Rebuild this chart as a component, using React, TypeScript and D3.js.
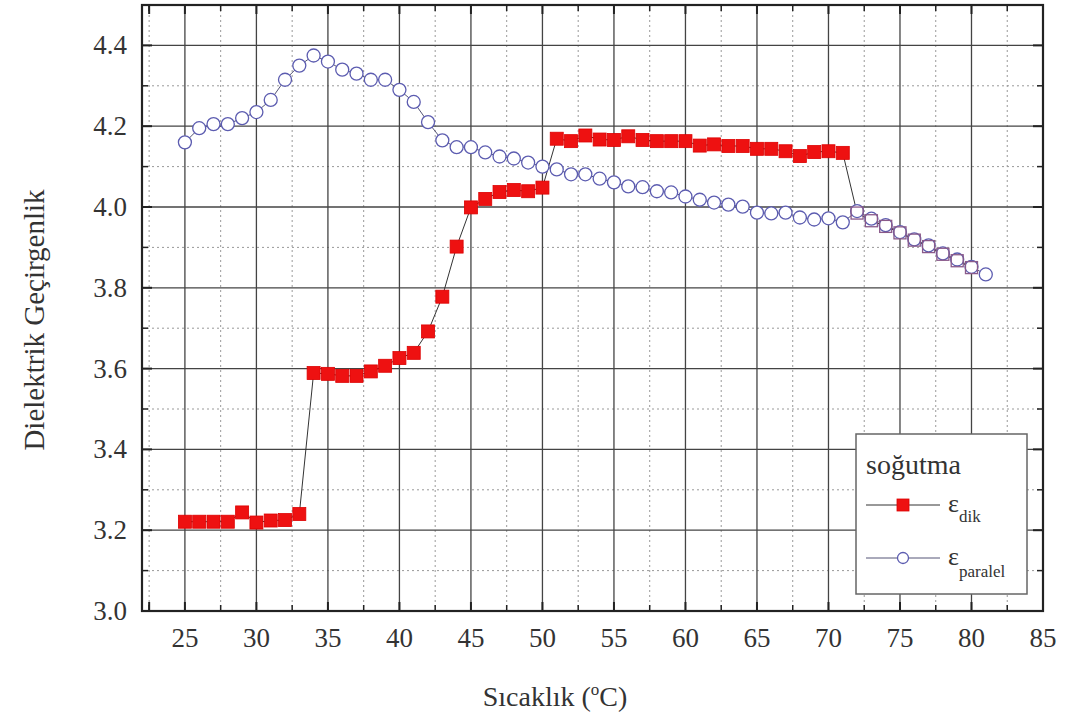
import React from 'react';
import * as d3 from 'd3';

const xDik = [25, 26, 27, 28, 29, 30, 31, 32, 33, 34, 35, 36, 37, 38, 39, 40, 41, 42, 43, 44, 45, 46, 47, 48, 49, 50,
  51, 52, 53, 54, 55, 56, 57, 58, 59, 60, 61, 62, 63, 64, 65, 66, 67, 68, 69, 70, 71];
const yDik = [3.221, 3.221, 3.221, 3.221, 3.244, 3.219, 3.224, 3.225, 3.240, 3.589, 3.587, 3.582, 3.582, 3.593, 3.607,
  3.626, 3.639, 3.692, 3.778, 3.902, 3.999, 4.02, 4.037, 4.042, 4.039, 4.048,
  4.169, 4.163, 4.177, 4.167, 4.166, 4.175, 4.166, 4.163, 4.163, 4.163, 4.152, 4.155, 4.151, 4.151, 4.144, 4.144,
  4.138, 4.126, 4.136, 4.138, 4.134];
// isotropic part of the dik series (drawn hollow, overlapping the paralel points)
const xDikIso = [72, 73, 74, 75, 76, 77, 78, 79, 80];
const yDikIso = [3.985, 3.966, 3.952, 3.936, 3.918, 3.902, 3.883, 3.867, 3.85];

const xPar = [25, 26, 27, 28, 29, 30, 31, 32, 33, 34, 35, 36, 37, 38, 39, 40, 41, 42, 43, 44, 45, 46, 47, 48, 49, 50,
  51, 52, 53, 54, 55, 56, 57, 58, 59, 60, 61, 62, 63, 64, 65, 66, 67, 68, 69, 70, 71, 72, 73, 74, 75, 76, 77, 78, 79, 80, 81];
const yPar = [4.16, 4.195, 4.205, 4.205, 4.22, 4.235, 4.265, 4.315, 4.35, 4.375, 4.36, 4.34, 4.33, 4.315, 4.315, 4.29,
  4.26, 4.21, 4.165, 4.148, 4.148, 4.135, 4.125, 4.12, 4.11, 4.10,
  4.093, 4.081, 4.081, 4.07, 4.061, 4.051, 4.049, 4.039, 4.036, 4.026, 4.018, 4.011, 4.006, 4.001, 3.986, 3.984,
  3.986, 3.974, 3.969, 3.972, 3.962, 3.99, 3.971, 3.955, 3.938, 3.92, 3.905, 3.885, 3.87, 3.852, 3.833];

const xTicks = [25, 30, 35, 40, 45, 50, 55, 60, 65, 70, 75, 80, 85];
const yTicks = [3.0, 3.2, 3.4, 3.6, 3.8, 4.0, 4.2, 4.4];

const W = 1067;
const H = 724;
const left = 142;
const right = 1043;
const top = 5;
const bottom = 611;

const serif = { fontFamily: "'Liberation Serif', 'DejaVu Serif', 'Times New Roman', Times, serif" };

export default function App() {
  const x = d3.scaleLinear().domain([22, 85]).range([left, right]);
  const y = d3.scaleLinear().domain([3.0, 4.5]).range([bottom, top]);

  const dik = xDik.map((d, i) => [d, yDik[i]] as [number, number]);
  const dikIso = xDikIso.map((d, i) => [d, yDikIso[i]] as [number, number]);
  const par = xPar.map((d, i) => [d, yPar[i]] as [number, number]);

  const line = d3.line<[number, number]>().x(d => x(d[0])).y(d => y(d[1]));

  const xMinor = d3.range(22.5, 85, 2.5).filter(v => !xTicks.includes(v));
  const yMinor = d3.range(3.1, 4.5, 0.2);

  return (
    <svg width={W} height={H} style={{ position: 'absolute', left: 0, top: 0, background: '#fff' }}>
      {/* minor dotted grid */}
      {xMinor.map(v => (
        <line key={'xm' + v} x1={x(v)} x2={x(v)} y1={top} y2={bottom} stroke="#999" strokeWidth={1} strokeDasharray="2,3" />
      ))}
      {yMinor.map(v => (
        <line key={'ym' + v} x1={left} x2={right} y1={y(v)} y2={y(v)} stroke="#999" strokeWidth={1} strokeDasharray="2,3" />
      ))}
      {/* major grid */}
      {xTicks.map(v => (
        <line key={'xg' + v} x1={x(v)} x2={x(v)} y1={top} y2={bottom} stroke="#444" strokeWidth={1.3} />
      ))}
      {yTicks.map(v => (
        <line key={'yg' + v} x1={left} x2={right} y1={y(v)} y2={y(v)} stroke="#444" strokeWidth={1.3} />
      ))}
      {/* ticks */}
      {xTicks.concat([22.5]).map(v => (
        <g key={'xt' + v}>
          <line x1={x(v)} x2={x(v)} y1={bottom} y2={bottom - 9} stroke="#222" strokeWidth={2} />
          <line x1={x(v)} x2={x(v)} y1={top} y2={top + 9} stroke="#222" strokeWidth={2} />
        </g>
      ))}
      {xMinor.map(v => (
        <g key={'xmt' + v}>
          <line x1={x(v)} x2={x(v)} y1={bottom} y2={bottom - 6} stroke="#222" strokeWidth={1.5} />
          <line x1={x(v)} x2={x(v)} y1={top} y2={top + 6} stroke="#222" strokeWidth={1.5} />
        </g>
      ))}
      {yTicks.map(v => (
        <g key={'yt' + v}>
          <line x1={left} x2={left + 10} y1={y(v)} y2={y(v)} stroke="#222" strokeWidth={2} />
          <line x1={right} x2={right - 10} y1={y(v)} y2={y(v)} stroke="#222" strokeWidth={2} />
        </g>
      ))}
      {yMinor.map(v => (
        <g key={'ymt' + v}>
          <line x1={left} x2={left + 6} y1={y(v)} y2={y(v)} stroke="#222" strokeWidth={1.5} />
          <line x1={right} x2={right - 6} y1={y(v)} y2={y(v)} stroke="#222" strokeWidth={1.5} />
        </g>
      ))}
      {/* frame */}
      <rect x={left} y={top} width={right - left} height={bottom - top} fill="none" stroke="#222" strokeWidth={2.2} />

      {/* series lines */}
      <path d={line(par) || ''} fill="none" stroke="#555577" strokeWidth={1} />
      <path d={line(dik.concat(dikIso)) || ''} fill="none" stroke="#333" strokeWidth={1} />

      {/* paralel markers */}
      {par.map(d => (
        <circle key={'p' + d[0]} cx={x(d[0])} cy={y(d[1])} r={6.5} fill="#fff" stroke="#5c5cb0" strokeWidth={1.3} />
      ))}
      {/* dik markers */}
      {dikIso.map(d => (
        <rect key={'di' + d[0]} x={x(d[0]) - 6} y={y(d[1]) - 6} width={12} height={12} fill="none" stroke="#8a5a8a" strokeWidth={1.3} />
      ))}
      {dik.map(d => (
        <rect key={'d' + d[0]} x={x(d[0]) - 6.5} y={y(d[1]) - 6.5} width={13} height={13} fill="#ee1111" stroke="#dd0000" strokeWidth={0.8} />
      ))}

      {/* tick labels */}
      <g style={serif} fill="#333">
        {xTicks.map(v => (
          <text key={'xl' + v} x={x(v)} y={647} textAnchor="middle" fontSize={27}>{v}</text>
        ))}
        {yTicks.map(v => (
          <text key={'yl' + v} x={127} y={y(v) + 9} textAnchor="end" fontSize={27}>{v.toFixed(1)}</text>
        ))}

        {/* axis titles */}
        <text x={555} y={706} textAnchor="middle" fontSize={28}>
          Sıcaklık (<tspan dy={-11} fontSize={17}>o</tspan><tspan dy={11}>C)</tspan>
        </text>
        <text transform="translate(44,320) rotate(-90)" textAnchor="middle" fontSize={29}>
          Dielektrik Geçirgenlik
        </text>
      </g>

      {/* legend */}
      <rect x={856} y={434} width={171} height={160} fill="#fff" stroke="#666" strokeWidth={1.5} />
      <g style={serif} fill="#333">
        <text x={866} y={474} fontSize={28}>soğutma</text>
        <text x={948} y={512} fontSize={26}>
          ε<tspan dy={10} fontSize={17}>dik</tspan>
        </text>
        <text x={948} y={565} fontSize={26}>
          ε<tspan dy={12} fontSize={17}>paralel</tspan>
        </text>
      </g>
      <line x1={866} x2={940} y1={505} y2={505} stroke="#333" strokeWidth={1} />
      <rect x={897} y={499} width={12} height={12} fill="#ee1111" stroke="#dd0000" strokeWidth={0.8} />
      <line x1={866} x2={940} y1={558} y2={558} stroke="#555577" strokeWidth={1} />
      <circle cx={903} cy={558} r={5.5} fill="#fff" stroke="#5c5cb0" strokeWidth={1.3} />
    </svg>
  );
}
